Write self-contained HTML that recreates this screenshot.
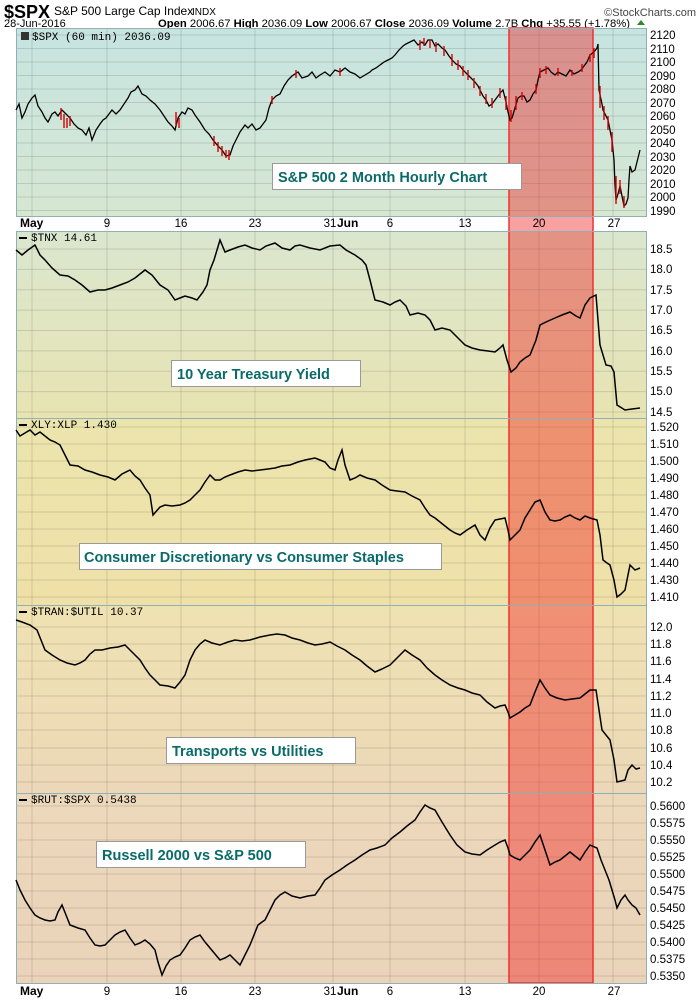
<!DOCTYPE html>
<html><head><meta charset="utf-8"><style>
html,body{margin:0;padding:0;background:#fff;}
svg{display:block;font-family:"Liberation Sans",sans-serif;}
.ax{font-size:11.5px;fill:#000;}
.lbl{font-size:14.5px;font-weight:bold;fill:#0a6a6a;}
.mono{font-family:"Liberation Mono",monospace;font-size:11px;}
.grid line{stroke:#000;stroke-opacity:0.12;stroke-width:1;}
</style></head><body>
<svg width="700" height="1000" viewBox="0 0 700 1000">
<defs>
<linearGradient id="g1" x1="0" y1="0" x2="0" y2="1"><stop offset="0" stop-color="#c7e4e1"/><stop offset="1" stop-color="#d6e7d2"/></linearGradient>
<linearGradient id="g2" x1="0" y1="0" x2="0" y2="1"><stop offset="0" stop-color="#dae6cf"/><stop offset="1" stop-color="#e8e4b2"/></linearGradient>
<linearGradient id="g3" x1="0" y1="0" x2="0" y2="1"><stop offset="0" stop-color="#ebe5ad"/><stop offset="1" stop-color="#efe0a8"/></linearGradient>
<linearGradient id="g4" x1="0" y1="0" x2="0" y2="1"><stop offset="0" stop-color="#efe2b2"/><stop offset="1" stop-color="#ecd8b8"/></linearGradient>
<linearGradient id="g5" x1="0" y1="0" x2="0" y2="1"><stop offset="0" stop-color="#ecd8bb"/><stop offset="1" stop-color="#ead3ba"/></linearGradient>
</defs>
<!-- header -->
<text x="4" y="18" style="font-size:18px;font-weight:bold">$SPX</text>
<text x="54" y="15" style="font-size:12px">S&amp;P 500 Large Cap Index</text>
<text x="192" y="15" style="font-size:10px">INDX</text>
<text x="696" y="16" text-anchor="end" style="font-size:11px;fill:#444">©StockCharts.com</text>
<text x="4" y="27" style="font-size:11px">28-Jun-2016</text>
<text x="158" y="27" style="font-size:11px" textLength="472" lengthAdjust="spacingAndGlyphs"><tspan font-weight="bold">Open</tspan> 2006.67 <tspan font-weight="bold">High</tspan> 2036.09 <tspan font-weight="bold">Low</tspan> 2006.67 <tspan font-weight="bold">Close</tspan> 2036.09 <tspan font-weight="bold">Volume</tspan> 2.7B <tspan font-weight="bold">Chg</tspan> +35.55 (+1.78%)</text>
<path d="M637,25 l4,-5 l4,5z" fill="#2a8a2a"/>

<!-- panels -->
<rect x="16" y="28" width="630" height="188" fill="url(#g1)"/>
<rect x="16" y="231" width="630" height="187" fill="url(#g2)"/>
<rect x="16" y="418" width="630" height="187" fill="url(#g3)"/>
<rect x="16" y="605" width="630" height="188" fill="url(#g4)"/>
<rect x="16" y="793" width="630" height="190" fill="url(#g5)"/>

<!-- grid -->
<g class="grid">
<line x1="32" y1="28" x2="32" y2="983"/><line x1="107" y1="28" x2="107" y2="983"/><line x1="181" y1="28" x2="181" y2="983"/><line x1="255" y1="28" x2="255" y2="983"/><line x1="333" y1="28" x2="333" y2="983"/><line x1="390" y1="28" x2="390" y2="983"/><line x1="465" y1="28" x2="465" y2="983"/><line x1="539" y1="28" x2="539" y2="983"/><line x1="613" y1="28" x2="613" y2="983"/>
<line x1="16" y1="35" x2="646" y2="35"/><line x1="16" y1="48.5" x2="646" y2="48.5"/><line x1="16" y1="62" x2="646" y2="62"/><line x1="16" y1="75.5" x2="646" y2="75.5"/><line x1="16" y1="89" x2="646" y2="89"/><line x1="16" y1="102.5" x2="646" y2="102.5"/><line x1="16" y1="116" x2="646" y2="116"/><line x1="16" y1="129.5" x2="646" y2="129.5"/><line x1="16" y1="143" x2="646" y2="143"/><line x1="16" y1="156.5" x2="646" y2="156.5"/><line x1="16" y1="170" x2="646" y2="170"/><line x1="16" y1="183.5" x2="646" y2="183.5"/><line x1="16" y1="197" x2="646" y2="197"/><line x1="16" y1="210.5" x2="646" y2="210.5"/>
<line x1="16" y1="249" x2="646" y2="249"/><line x1="16" y1="269.4" x2="646" y2="269.4"/><line x1="16" y1="289.8" x2="646" y2="289.8"/><line x1="16" y1="310.1" x2="646" y2="310.1"/><line x1="16" y1="330.5" x2="646" y2="330.5"/><line x1="16" y1="350.9" x2="646" y2="350.9"/><line x1="16" y1="371.3" x2="646" y2="371.3"/><line x1="16" y1="391.6" x2="646" y2="391.6"/><line x1="16" y1="412" x2="646" y2="412"/>
<line x1="16" y1="427" x2="646" y2="427"/><line x1="16" y1="444" x2="646" y2="444"/><line x1="16" y1="461" x2="646" y2="461"/><line x1="16" y1="478" x2="646" y2="478"/><line x1="16" y1="495" x2="646" y2="495"/><line x1="16" y1="512" x2="646" y2="512"/><line x1="16" y1="529" x2="646" y2="529"/><line x1="16" y1="546" x2="646" y2="546"/><line x1="16" y1="563" x2="646" y2="563"/><line x1="16" y1="580" x2="646" y2="580"/><line x1="16" y1="597" x2="646" y2="597"/>
<line x1="16" y1="627" x2="646" y2="627"/><line x1="16" y1="644" x2="646" y2="644"/><line x1="16" y1="661" x2="646" y2="661"/><line x1="16" y1="679" x2="646" y2="679"/><line x1="16" y1="696" x2="646" y2="696"/><line x1="16" y1="713" x2="646" y2="713"/><line x1="16" y1="730" x2="646" y2="730"/><line x1="16" y1="748" x2="646" y2="748"/><line x1="16" y1="765" x2="646" y2="765"/><line x1="16" y1="782" x2="646" y2="782"/>
<line x1="16" y1="806" x2="646" y2="806"/><line x1="16" y1="823" x2="646" y2="823"/><line x1="16" y1="840" x2="646" y2="840"/><line x1="16" y1="857" x2="646" y2="857"/><line x1="16" y1="874" x2="646" y2="874"/><line x1="16" y1="891" x2="646" y2="891"/><line x1="16" y1="908" x2="646" y2="908"/><line x1="16" y1="925" x2="646" y2="925"/><line x1="16" y1="942" x2="646" y2="942"/><line x1="16" y1="959" x2="646" y2="959"/><line x1="16" y1="976" x2="646" y2="976"/>
</g>

<!-- red band -->
<rect x="509" y="28" width="84" height="955" fill="#f02020" fill-opacity="0.42" stroke="#f03030" stroke-width="1.5"/>

<!-- panel borders -->
<g fill="none" stroke="#8fb0b4" stroke-width="1">
<rect x="16.5" y="28.5" width="630" height="188"/>
<rect x="16.5" y="231.5" width="630" height="752"/>
<line x1="16" y1="418.5" x2="646" y2="418.5"/><line x1="16" y1="605.5" x2="646" y2="605.5"/><line x1="16" y1="793.5" x2="646" y2="793.5"/>
</g>

<!-- series -->
<polyline fill="none" stroke="#000" stroke-width="1.3" points="16,110 19,104 22,118 25,112 28,104 32,98 35,95 38,106 42,112 45,118 48,122 52,114 55,112 58,116 62,110 66,114 70,118 74,124 78,128 82,130 86,135 89,128 92,140 96,130 100,124 103,120 106,118 109,114 112,110 116,114 120,110 124,104 128,98 131,92 135,90 138,86 142,94 146,96 150,100 155,104 160,110 164,116 168,122 172,126 175,130 178,118 182,112 185,114 188,108 192,110 195,115 200,122 205,130 209,134 213,140 218,146 222,150 226,156 230,155 233,146 236,140 240,132 245,125 248,128 252,124 256,130 260,128 263,124 266,120 269,108 272,100 276,96 280,94 284,86 288,80 292,76 298,72 302,78 308,76 312,72 316,78 320,75 325,72 330,76 335,70 340,72 345,68 350,72 355,74 360,78 365,75 370,72 372,70 376,68 380,65 384,62 388,60 392,58 395,55 399,50 403,46 406,44 410,42 414,40 418,45 422,42 425,45 428,40 432,40 435,46 438,44 442,48 445,50 449,56 452,60 456,64 460,66 463,70 467,74 471,78 475,82 478,86 480,90 483,96 486,100 489,106 492,104 495,100 498,96 501,92 503,90 506,102 508,112 510,120 512,118 515,108 518,98 521,96 524,96 527,102 530,100 533,94 536,90 538,80 540,72 544,70 548,68 551,72 555,75 558,72 562,74 566,76 570,70 574,74 578,72 581,70 584,66 587,62 590,55 594,52 597,48 598,44 599,90 602,104 603,110 606,116 608,120 610,130 612,140 613,150 614,160 615,185 616,200 618,194 620,186 622,196 624,206 626,204 628,198 629,180 630,166 632,172 635,170 637,162 640,150"/>
<path fill="none" stroke="#d80000" stroke-width="1.4" d="M61,108v12 M64,114v14 M67,118v10 M70,116v10 M176,112v14 M179,118v10 M214,136v10 M218,142v10 M222,146v10 M226,150v8 M229,150v10 M272,96v8 M296,70v8 M340,68v8 M420,40v10 M424,38v8 M430,40v8 M436,42v10 M444,46v10 M452,54v12 M458,60v10 M463,66v10 M468,70v10 M474,78v10 M480,86v10 M486,94v10 M492,98v10 M500,88v10 M506,96v14 M511,110v12 M516,96v14 M522,92v8 M536,84v10 M540,68v10 M546,66v8 M558,68v8 M572,70v6 M582,64v8 M590,54v8 M594,48v10 M600,86v22 M604,106v14 M608,116v14 M612,132v20 M616,176v28 M620,180v14 M624,196v12"/>
<polyline fill="none" stroke="#000" stroke-width="1.5" points="16,250 22,255 28,250 35,245 40,255 45,260 52,268 60,275 68,276 75,280 82,285 90,292 98,290 105,290 112,288 120,285 128,282 135,278 145,270 152,275 160,285 168,290 175,300 180,298 185,296 192,298 197,300 203,292 207,285 210,270 214,260 220,240 225,252 230,250 238,247 245,245 252,248 260,250 266,246 275,243 282,248 290,250 295,246 300,245 310,248 320,250 330,246 340,245 346,250 355,255 362,260 366,265 370,280 375,300 383,302 390,305 395,302 400,300 406,306 410,315 418,313 425,315 430,320 435,330 442,328 450,330 458,338 465,345 472,348 480,350 488,351 495,352 500,348 503,345 507,360 511,372 516,368 520,362 525,358 530,355 536,340 540,325 546,322 555,318 562,315 570,312 576,316 580,318 585,305 590,298 596,295 600,345 606,365 611,366 614,372 617,405 625,410 632,409 640,408"/>
<polyline fill="none" stroke="#000" stroke-width="1.5" points="16,430 20,436 25,433 30,430 35,435 40,432 45,436 50,440 55,442 60,445 65,455 70,465 78,466 85,470 92,472 100,475 108,477 115,480 122,474 130,470 135,476 140,480 145,488 150,495 153,515 160,507 165,505 172,506 180,505 185,503 190,500 195,495 200,490 205,482 210,475 215,480 220,480 225,477 230,475 238,472 245,470 252,471 260,470 268,469 275,468 282,466 290,465 298,462 305,460 310,459 315,458 320,460 325,462 330,468 335,470 338,460 342,450 345,465 350,480 355,478 360,475 367,478 375,480 382,485 390,490 397,491 405,492 412,496 420,500 425,508 430,515 435,518 440,522 445,526 450,530 455,533 460,535 467,530 475,525 480,535 485,540 490,528 495,520 500,519 505,518 508,530 510,540 515,535 520,530 525,518 530,510 535,502 540,500 545,512 550,520 555,521 560,520 565,517 570,515 575,518 580,520 585,516 590,518 597,520 600,535 603,560 607,563 610,565 614,580 617,597 621,594 625,590 628,575 630,565 635,570 640,568"/>
<polyline fill="none" stroke="#000" stroke-width="1.5" points="16,620 22,622 30,625 37,630 45,650 52,655 60,660 67,663 75,665 80,663 85,660 90,654 95,650 102,650 110,648 118,647 125,645 132,652 140,660 145,668 150,675 155,680 160,685 168,686 175,688 180,682 185,675 190,660 195,650 200,644 205,640 212,643 220,645 228,642 235,640 242,641 250,640 260,637 270,635 277,634 285,635 292,638 300,640 308,643 315,645 322,644 330,642 337,646 345,650 352,655 360,660 367,666 375,672 382,669 390,665 397,658 405,650 412,655 420,660 427,668 435,675 442,680 450,685 458,688 465,690 472,693 480,695 487,702 495,708 500,706 505,705 508,712 510,718 515,715 520,712 525,708 530,705 535,692 540,680 545,688 550,695 557,698 565,700 572,699 580,698 585,694 590,690 596,690 599,710 602,730 606,735 610,740 614,760 617,782 621,781 625,780 628,770 632,765 636,769 640,768"/>
<polyline fill="none" stroke="#000" stroke-width="1.5" points="16,880 20,890 25,900 30,908 35,915 40,918 45,920 50,921 55,920 58,912 62,905 66,915 70,925 78,928 85,930 90,938 95,945 100,946 105,945 110,940 115,935 120,932 125,930 130,938 135,945 140,943 145,940 150,944 155,950 158,962 162,975 166,966 170,960 175,957 180,955 185,948 190,940 195,937 200,935 205,942 210,948 215,954 220,960 225,958 230,955 235,960 240,965 245,955 250,945 254,935 258,925 262,922 265,920 270,910 275,900 280,895 285,892 292,896 300,898 308,896 315,895 320,888 325,880 332,875 340,870 347,865 355,860 362,855 370,850 377,848 385,845 392,838 400,832 407,826 415,820 420,812 425,805 430,808 435,810 442,822 450,835 457,845 465,852 472,854 480,855 487,850 495,845 500,842 505,840 508,848 510,855 515,858 520,860 525,855 530,850 535,842 540,835 545,850 550,865 555,862 560,860 565,856 570,852 575,856 580,860 585,852 590,845 597,848 601,860 605,870 609,880 612,890 615,900 617,908 621,900 625,895 628,900 632,905 636,908 640,915"/>

<!-- panel legends -->
<rect x="21" y="32" width="8" height="8" fill="#333"/>
<text x="32" y="40" class="mono">$SPX (60 min) 2036.09</text>
<line x1="19" y1="238" x2="27" y2="238" stroke="#000" stroke-width="2"/><text x="31" y="241" class="mono">$TNX 14.61</text>
<line x1="19" y1="425" x2="27" y2="425" stroke="#000" stroke-width="2"/><text x="31" y="428" class="mono">XLY:XLP 1.430</text>
<line x1="19" y1="612" x2="27" y2="612" stroke="#000" stroke-width="2"/><text x="31" y="615" class="mono">$TRAN:$UTIL 10.37</text>
<line x1="19" y1="800" x2="27" y2="800" stroke="#000" stroke-width="2"/><text x="31" y="803" class="mono">$RUT:$SPX 0.5438</text>

<!-- label boxes -->
<g fill="#fff" stroke="#999" stroke-width="1">
<rect x="272.5" y="163.5" width="249" height="26"/>
<rect x="171.5" y="360.5" width="189" height="26"/>
<rect x="79.5" y="543.5" width="362" height="26"/>
<rect x="166.5" y="737.5" width="189" height="26"/>
<rect x="96.5" y="841.5" width="209" height="26"/>
</g>
<text x="278" y="182" class="lbl">S&amp;P 500 2 Month Hourly Chart</text>
<text x="177" y="379" class="lbl">10 Year Treasury Yield</text>
<text x="84" y="562" class="lbl">Consumer Discretionary vs Consumer Staples</text>
<text x="172" y="756" class="lbl">Transports vs Utilities</text>
<text x="102" y="860" class="lbl">Russell 2000 vs S&amp;P 500</text>

<g class="ax">
<text x="20" y="227" font-weight="bold" font-size="12">May</text>
<text x="107" y="227" text-anchor="middle">9</text><text x="181" y="227" text-anchor="middle">16</text><text x="255" y="227" text-anchor="middle">23</text><text x="330" y="227" text-anchor="middle">31</text><text x="337" y="227" font-weight="bold" font-size="12">Jun</text><text x="390" y="227" text-anchor="middle">6</text><text x="465" y="227" text-anchor="middle">13</text><text x="539" y="227" text-anchor="middle">20</text><text x="614" y="227" text-anchor="middle">27</text>
</g>
<g class="ax">
<text x="20" y="995" font-weight="bold" font-size="12">May</text>
<text x="107" y="995" text-anchor="middle">9</text><text x="181" y="995" text-anchor="middle">16</text><text x="255" y="995" text-anchor="middle">23</text><text x="330" y="995" text-anchor="middle">31</text><text x="337" y="995" font-weight="bold" font-size="12">Jun</text><text x="390" y="995" text-anchor="middle">6</text><text x="465" y="995" text-anchor="middle">13</text><text x="539" y="995" text-anchor="middle">20</text><text x="614" y="995" text-anchor="middle">27</text>
</g>

<g class="ax">
<text x="650" y="39">2120</text><text x="650" y="53">2110</text><text x="650" y="66">2100</text><text x="650" y="80">2090</text><text x="650" y="93">2080</text><text x="650" y="107">2070</text><text x="650" y="120">2060</text><text x="650" y="134">2050</text><text x="650" y="147">2040</text><text x="650" y="161">2030</text><text x="650" y="174">2020</text><text x="650" y="188">2010</text><text x="650" y="201">2000</text><text x="650" y="215">1990</text>
<text x="650" y="253">18.5</text><text x="650" y="273">18.0</text><text x="650" y="294">17.5</text><text x="650" y="314">17.0</text><text x="650" y="334">16.5</text><text x="650" y="355">16.0</text><text x="650" y="375">15.5</text><text x="650" y="395">15.0</text><text x="650" y="416">14.5</text>
<text x="650" y="431">1.520</text><text x="650" y="448">1.510</text><text x="650" y="465">1.500</text><text x="650" y="482">1.490</text><text x="650" y="499">1.480</text><text x="650" y="516">1.470</text><text x="650" y="533">1.460</text><text x="650" y="550">1.450</text><text x="650" y="567">1.440</text><text x="650" y="584">1.430</text><text x="650" y="601">1.410</text>
<text x="650" y="631">12.0</text><text x="650" y="648">11.8</text><text x="650" y="665">11.6</text><text x="650" y="683">11.4</text><text x="650" y="700">11.2</text><text x="650" y="717">11.0</text><text x="650" y="734">10.8</text><text x="650" y="752">10.6</text><text x="650" y="769">10.4</text><text x="650" y="786">10.2</text>
<text x="650" y="810">0.5600</text><text x="650" y="827">0.5575</text><text x="650" y="844">0.5550</text><text x="650" y="861">0.5525</text><text x="650" y="878">0.5500</text><text x="650" y="895">0.5475</text><text x="650" y="912">0.5450</text><text x="650" y="929">0.5425</text><text x="650" y="946">0.5400</text><text x="650" y="963">0.5375</text><text x="650" y="980">0.5350</text>
</g>
</svg>
</body></html>
